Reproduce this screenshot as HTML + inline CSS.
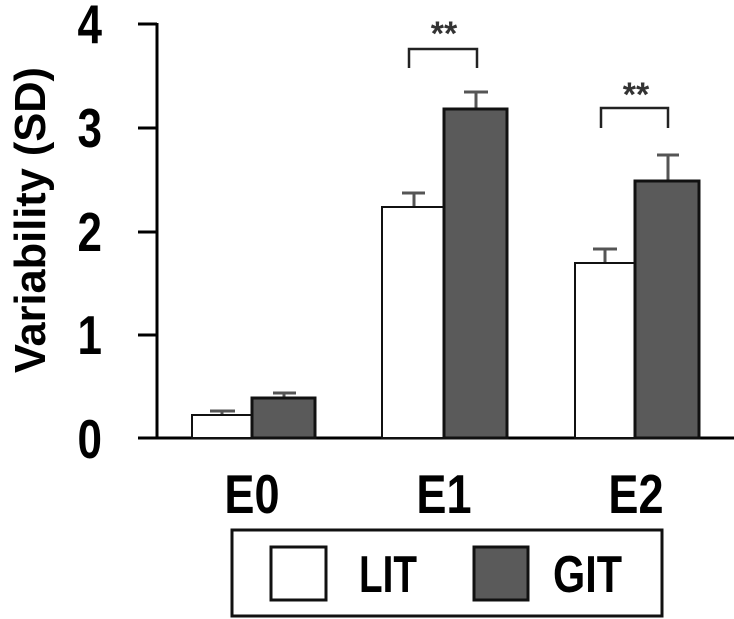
<!DOCTYPE html>
<html><head><meta charset="utf-8"><style>
html,body{margin:0;padding:0;background:#fff;width:734px;height:619px;overflow:hidden}
svg{display:block}
text{font-family:"Liberation Sans",sans-serif}
</style></head><body>
<svg width="734" height="619" viewBox="0 0 734 619" xmlns="http://www.w3.org/2000/svg">
<g stroke="#000" stroke-width="3" fill="none">
<line x1="157" y1="23" x2="157" y2="438"/>
<line x1="138" y1="438" x2="734" y2="438"/>
<line x1="138" y1="24" x2="157" y2="24"/>
<line x1="138" y1="128" x2="157" y2="128"/>
<line x1="138" y1="232" x2="157" y2="232"/>
<line x1="138" y1="335" x2="157" y2="335"/>
</g>
<g font-size="55" font-weight="bold" text-anchor="end" fill="#000">
<text x="102" y="43" transform="translate(102 0) scale(0.8 1) translate(-102 0)">4</text>
<text x="102" y="147" transform="translate(102 0) scale(0.8 1) translate(-102 0)">3</text>
<text x="102" y="251" transform="translate(102 0) scale(0.8 1) translate(-102 0)">2</text>
<text x="102" y="354" transform="translate(102 0) scale(0.8 1) translate(-102 0)">1</text>
<text x="102" y="458" transform="translate(102 0) scale(0.8 1) translate(-102 0)">0</text>
</g>
<text transform="translate(45 373) rotate(-90)" font-size="44" font-weight="bold" textLength="306" lengthAdjust="spacingAndGlyphs">Variability (SD)</text>
<g stroke="#555" stroke-width="3">
<line x1="222" y1="415" x2="222" y2="411"/><line x1="210" y1="411" x2="235" y2="411"/>
<line x1="284" y1="398" x2="284" y2="393"/><line x1="273" y1="393" x2="296" y2="393"/>
<line x1="414" y1="207" x2="414" y2="193"/><line x1="402" y1="193" x2="425" y2="193"/>
<line x1="476" y1="109" x2="476" y2="92"/><line x1="464" y1="92" x2="488" y2="92"/>
<line x1="605" y1="263" x2="605" y2="249"/><line x1="593" y1="249" x2="617" y2="249"/>
<line x1="668" y1="181" x2="668" y2="155"/><line x1="657" y1="155" x2="679" y2="155"/>
</g>
<g stroke="#111">
<rect x="192" y="415" width="60" height="23" fill="#fff" stroke-width="2"/>
<rect x="252" y="398" width="63" height="40" fill="#5a5a5a" stroke-width="3"/>
<rect x="382" y="207" width="62" height="231" fill="#fff" stroke-width="2"/>
<rect x="444" y="109" width="63" height="329" fill="#5a5a5a" stroke-width="3"/>
<rect x="575" y="263" width="60" height="175" fill="#fff" stroke-width="2"/>
<rect x="635" y="181" width="64" height="257" fill="#5a5a5a" stroke-width="3"/>
</g>
<g stroke="#222" stroke-width="2.5" fill="none">
<polyline points="409,68 409,49 477,49 477,68"/>
<polyline points="601,128 601,108 668,108 668,128"/>
</g>
<g font-size="34" font-weight="bold" text-anchor="middle" fill="#333">
<text x="444" y="45">**</text>
<text x="636" y="106">**</text>
</g>
<g font-size="55" font-weight="bold" text-anchor="middle" fill="#000">
<text x="252" y="513" transform="translate(252 0) scale(0.82 1) translate(-252 0)">E0</text>
<text x="444" y="513" transform="translate(444 0) scale(0.82 1) translate(-444 0)">E1</text>
<text x="636" y="513" transform="translate(636 0) scale(0.82 1) translate(-636 0)">E2</text>
</g>
<rect x="232" y="530" width="430" height="86" fill="#fff" stroke="#111" stroke-width="3"/>
<rect x="271" y="547" width="55" height="53" fill="#fff" stroke="#111" stroke-width="3"/>
<rect x="474" y="547" width="54" height="53" fill="#5a5a5a" stroke="#111" stroke-width="3"/>
<g font-size="52" font-weight="bold" fill="#000">
<text x="359" y="592" textLength="58" lengthAdjust="spacingAndGlyphs">LIT</text>
<text x="553" y="592" textLength="69" lengthAdjust="spacingAndGlyphs">GIT</text>
</g>
</svg>
</body></html>
